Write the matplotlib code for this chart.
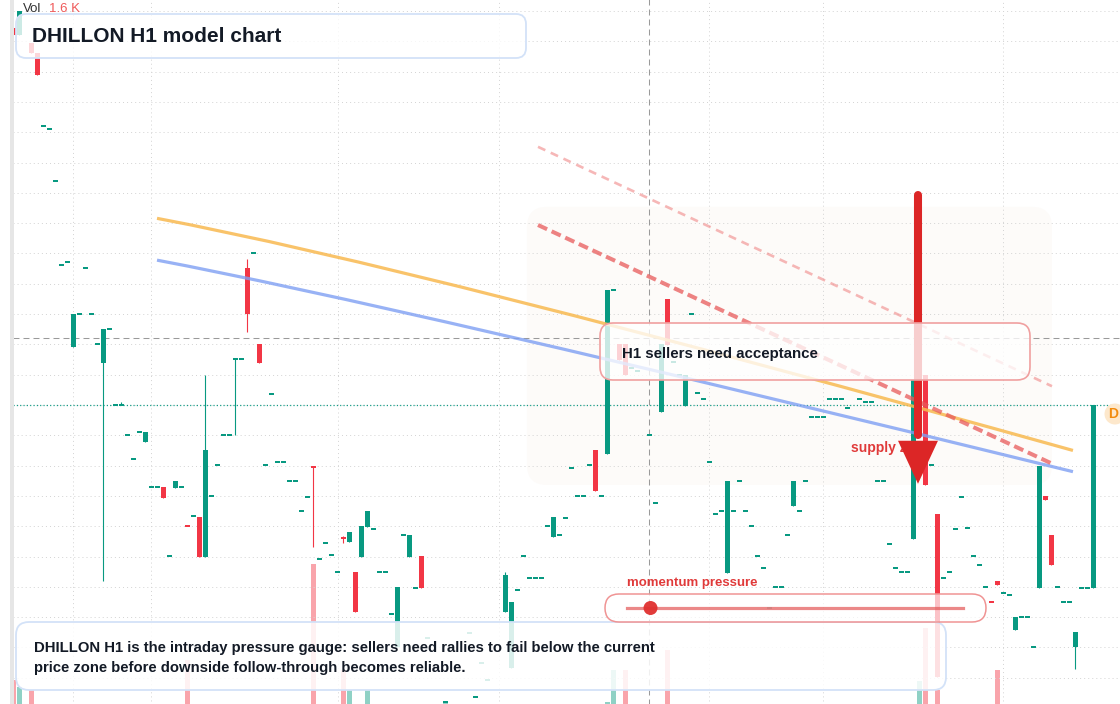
import matplotlib
matplotlib.use('Agg')
import matplotlib.pyplot as plt
from matplotlib.patches import FancyBboxPatch, Polygon, Circle, Rectangle, PathPatch
from matplotlib.path import Path
from matplotlib.transforms import IdentityTransform
from matplotlib.lines import Line2D

plt.rcParams['font.family'] = ['Liberation Sans', 'DejaVu Sans']
plt.rcParams['lines.scale_dashes'] = False

W, H = 1120, 704
GREEN = '#089981'
RED = '#f23645'

# --- candles with a body (slot, open, high, low, close) ---
bar_slot = [2, 3, 5, 6, 12, 17, 20, 24, 27, 29, 31, 33, 34, 39, 41, 43, 52, 57, 58, 59,
            60, 61, 66, 68, 70, 84, 85, 92, 99, 101, 103, 104, 110, 111, 114, 121, 132,
            152, 153, 154, 156, 165, 166, 169, 173, 174, 175, 179, 182]
bar_open = [106.22, 106.11, 105.97, 105.81, 100.96, 100.69, 100.00, 99.39, 98.65, 98.63,
            98.01, 98.15, 97.49, 100.76, 102.26, 101.01, 98.99, 97.81, 97.74, 97.24,
            97.49, 97.99, 96.01, 97.49, 97.51, 96.58, 95.66, 97.82, 99.26, 99.19,
            101.01, 101.01, 99.88, 101.75, 99.98, 97.23, 98.33,
            97.79, 99.10, 100.50, 98.20, 96.76, 97.10, 96.29, 96.98, 98.50, 97.86, 96.01, 96.98]
bar_high = [106.22, 106.50, 105.97, 105.81, 101.50, 101.25, 100.05, 99.55, 98.65, 98.75,
            98.01, 98.15, 100.50, 100.76, 102.41, 101.01, 98.99, 97.84, 97.90, 97.24,
            98.00, 98.25, 97.00, 97.86, 97.51, 97.24, 96.75, 98.15, 99.26, 101.90,
            101.01, 101.01, 101.01, 101.75, 100.50, 98.75, 98.75,
            100.41, 99.30, 100.50, 98.20, 96.76, 97.10, 96.50, 98.99, 98.50, 97.86, 96.25, 100.00]
bar_low = [106.11, 106.11, 105.81, 105.45, 100.96, 97.10, 100.00, 99.39, 98.47, 98.63,
           98.00, 97.49, 97.49, 99.50, 101.20, 100.69, 97.66, 97.72, 97.74, 96.58,
           97.49, 97.99, 96.01, 97.49, 96.98, 96.58, 95.66, 97.82, 98.58, 99.19,
           100.74, 100.50, 99.88, 100.99, 99.98, 97.23, 98.33,
           97.79, 99.10, 98.68, 95.51, 96.75, 97.03, 96.29, 96.98, 98.43, 97.36, 95.64, 96.98]
bar_close = [106.11, 106.50, 105.81, 105.45, 101.50, 101.25, 100.00, 99.55, 98.47, 98.75,
             98.00, 97.49, 99.26, 100.76, 101.50, 100.69, 98.96, 97.80, 97.90, 96.58,
             98.00, 98.25, 97.00, 97.86, 96.98, 97.20, 96.75, 98.15, 98.58, 101.90,
             100.74, 100.50, 101.01, 100.99, 100.50, 98.75, 98.75,
             100.41, 99.30, 98.68, 95.51, 96.75, 97.03, 96.50, 98.99, 98.43, 97.36, 96.25, 100.00]

# --- flat candles (open == high == low == close) ---
tick_slot = [7, 8, 9, 10, 11, 13, 14, 15, 16, 18, 19, 21, 22, 23, 25, 26, 28, 30, 32, 35,
             36, 37, 38, 40, 42, 44, 45, 46, 47, 48, 49, 50, 51, 53, 54, 55, 56, 62, 63, 64,
             65, 67, 69, 71, 74, 78, 79, 80, 81, 86, 87, 88, 89, 90, 91, 93, 94, 95, 96, 97,
             98, 100, 102, 105, 106, 108, 109, 112, 113, 115, 116, 117, 118, 119, 120, 122,
             123, 124, 125, 126, 127, 128, 129, 130, 131, 133, 134, 135, 136, 137, 138, 139,
             140, 141, 143, 144, 145, 146, 147, 148, 149, 150, 151, 155, 157, 158, 159, 160,
             161, 162, 163, 164, 167, 168, 170, 171, 172, 176, 177, 178, 180, 181]
tick_price = [104.60, 104.55, 103.70, 102.31, 102.36, 101.50, 102.26, 101.50, 101.01, 101.25,
              100.00, 99.50, 99.11, 99.55, 98.65, 98.65, 97.51, 98.65, 98.17, 98.50,
              99.01, 99.50, 99.50, 100.76, 102.51, 99.01, 100.18, 99.06, 99.06, 98.75,
              98.75, 98.25, 98.48, 97.46, 97.72, 97.53, 97.24, 97.95, 97.24, 97.24,
              96.55, 97.86, 96.98, 96.16, 95.10, 96.24, 95.18, 95.74, 95.46, 96.95,
              97.51, 97.15, 97.15, 97.15, 98.00, 97.86, 98.14, 98.96, 98.50, 98.50,
              99.01, 98.50, 101.90, 100.61, 100.56, 99.50, 98.38, 100.71, 100.50, 101.50,
              100.20, 100.10, 99.06, 98.20, 98.25, 98.25, 98.75, 98.25, 98.00, 97.51,
              97.31, 96.65, 97.00, 97.00, 97.86, 98.25, 98.75, 99.80, 99.80, 99.80,
              100.10, 100.10, 100.10, 99.95, 100.10, 100.05, 100.05, 98.75, 98.75, 97.71,
              97.31, 97.24, 97.24, 99.01, 97.15, 97.24, 97.95, 98.48, 97.97, 97.51,
              97.36, 97.00, 96.90, 96.87, 96.50, 96.50, 96.01, 97.00, 96.75, 96.75,
              96.98, 96.98]

# --- volume ---
vol_slot = [2, 3, 5, 31, 52, 57, 58, 61, 74, 101, 102, 104, 111, 153, 154, 156, 166]
vol_value = [270, 190, 160, 500, 1600, 390, 160, 160, 35, 25, 390, 390, 620, 260, 870, 160, 390]

# --- overlays (curves: start, control, end) ---
orange_slot = [25.92, 69.42, 178.58]
orange_price = [103.08, 102.27, 99.25]
blue_slot = [25.92, 64.58, 178.58]
blue_price = [102.39, 101.67, 98.90]
supply_upper_slot = [89.42, 175.58]
supply_upper_price = [102.97, 99.01]
supply_outer_slot = [89.42, 175.08]
supply_outer_price = [104.26, 100.31]
zone_slot = [87.58, 175.08]
zone_price = [98.68, 103.27]
arrow_slot = 152.75
arrow_top, arrow_tip = 103.47, 98.70
grid_slots = [11.92, 24.92, 56.08, 82.92, 117.92, 136.92, 166.92]
cross_slot, cross_price = 107.92, 101.11
last_price = 100.00
momentum = 0.07

title = 'DHILLON H1 model chart'
note_lines = ['DHILLON H1 is the intraday pressure gauge: sellers need rallies to fail below the current',
              'price zone before downside follow-through becomes reliable.']

fig = plt.figure(figsize=(W / 100, H / 100), dpi=100)
ax_vol = fig.add_axes([0, 0, 1, 1])
ax = ax_vol.twinx()
for a in (ax_vol, ax):
    a.set_axis_off()
ax.set_xlim(-0.25, 186.42)
ax.set_ylim(95.0665, 106.6825)
ax_vol.set_ylim(0, 8050)

# direction per slot (for volume colouring)
up = {s: True for s in tick_slot}
for s, o, c in zip(bar_slot, bar_open, bar_close):
    up[s] = c >= o

bw = 5 / 6
min_h = 0.028

# grid
for p in [95.5 + 0.5 * i for i in range(23)]:
    ax.plot([2.0, 186.42], [p, p], color='#d5d5d5', lw=0.72, dashes=(0.72, 2.2), zorder=1)
for s in grid_slots:
    ax.plot([s, s], [95.0, 107.0], color='#d5d5d5', lw=0.72, dashes=(0.72, 2.2), zorder=1)

# zone shading
x0, y0 = ax.transData.transform((zone_slot[0], zone_price[0]))
x1, y1 = ax.transData.transform((zone_slot[1], zone_price[1]))
ax.add_patch(FancyBboxPatch((x0, y0), x1 - x0, y1 - y0, boxstyle='round,pad=0,rounding_size=20',
                            transform=IdentityTransform(), fc='#fdfbf9', ec='none', zorder=0.5))

# crosshair + last price line
ax.plot([cross_slot, cross_slot], [95.0, 107.0], color='#9a9a9a', lw=0.75, dashes=(4.3, 2.9), zorder=1.5)
ax.plot([2.0, 186.42], [cross_price, cross_price], color='#9a9a9a', lw=0.75, dashes=(4.3, 2.9), zorder=1.5)
ax.plot([2.0, 186.42], [last_price, last_price], color=GREEN, lw=0.9, dashes=(0.8, 1.6), zorder=2)

# volume
vcol = [(0.03, 0.6, 0.5, 0.45) if up[s] else (0.95, 0.21, 0.27, 0.45) for s in vol_slot]
ax_vol.bar(vol_slot, vol_value, width=bw, color=vcol, linewidth=0, zorder=1)

# candles
cols = [GREEN if c >= o else RED for o, c in zip(bar_open, bar_close)]
ax.vlines(bar_slot, bar_low, bar_high, colors=cols, lw=0.8, zorder=3)
bottoms, heights = [], []
for o, c in zip(bar_open, bar_close):
    lo, hi = min(o, c), max(o, c)
    if hi - lo < min_h:
        mid = (hi + lo) / 2
        lo, hi = mid - min_h / 2, mid + min_h / 2
    bottoms.append(lo)
    heights.append(hi - lo)
ax.bar(bar_slot, heights, width=bw, bottom=bottoms, color=cols, linewidth=0, zorder=3.2)
ax.bar(tick_slot, [min_h] * len(tick_slot), width=bw,
       bottom=[p - min_h / 2 for p in tick_price], color=GREEN, linewidth=0, zorder=3.2)

# trend overlays (quadratic curves)
for xs, ys, col, al in [(orange_slot, orange_price, '#f8b950', 0.85),
                        (blue_slot, blue_price, '#7e9ff3', 0.8)]:
    path = Path(list(zip(xs, ys)), [Path.MOVETO, Path.CURVE3, Path.CURVE3])
    ax.add_patch(PathPatch(path, fc='none', ec=col, lw=2.3, alpha=al, zorder=4, capstyle='butt'))
ax.plot(supply_upper_slot, supply_upper_price, color='#e85a5a', lw=2.9, alpha=0.75,
        dashes=(7.2, 3.6), zorder=4.2)
ax.plot(supply_outer_slot, supply_outer_price, color='#f08888', lw=1.9, alpha=0.6,
        dashes=(5.8, 4.3), zorder=4.2)

ax.text(141.58, 99.29, 'supply zone', color='#e03a3a', fontsize=10, fontweight='bold',
        va='center', ha='left', zorder=5)

# arrow
ax.plot([arrow_slot, arrow_slot], [arrow_top, arrow_tip + 0.8], color='#dc2626', lw=5.8,
        solid_capstyle='round', zorder=6)
ax.add_patch(Polygon([(arrow_slot - 3.33, arrow_tip + 0.71), (arrow_slot + 3.33, arrow_tip + 0.71),
                      (arrow_slot, arrow_tip)], closed=True, fc='#dc2626', ec='none', zorder=6.1))


def rbox(x0, y0, x1, y1, r, fc, ec, lw, z):
    fig.add_artist(FancyBboxPatch((x0, H - y1), x1 - x0, y1 - y0,
                                  boxstyle=f'round,pad=0,rounding_size={r}',
                                  transform=IdentityTransform(), fc=fc, ec=ec, lw=lw, zorder=z))


def ftext(x, y, s, **kw):
    fig.text(x / W, 1 - y / H, s, va='center', ha='left', zorder=8, **kw)


# left pane border
fig.add_artist(Rectangle((10, 0), 4, H, transform=IdentityTransform(), fc='#e6e6e6', ec='none', zorder=4))

# boxes
rbox(16, 14, 526, 58, 10, (1, 1, 1, 0.8), '#d3e2f8', 1.3, 5)
rbox(600, 323, 1030, 380, 13, (1, 1, 1, 0.78), '#f0a0a0', 1.2, 5)
rbox(16, 622, 946, 690, 13, (1, 1, 1, 0.85), '#d3e2f8', 1.3, 5)
rbox(605, 594, 986, 622, 14, (1, 1, 1, 0.7), '#f09494', 1.1, 5.5)

# momentum gauge
fig.add_artist(Line2D([627, 963], [H - 608, H - 608], transform=IdentityTransform(),
                      color='#e35656', alpha=0.7, lw=2.3, zorder=6))
fig.add_artist(Circle((627 + momentum * 336, H - 608), 7, transform=IdentityTransform(),
                      fc='#e0302f', ec='none', alpha=0.95, zorder=6.5))

# last price badge
fig.add_artist(Circle((1115, H - 414), 10.5, transform=IdentityTransform(), fc='#fde8cc', ec='none', zorder=6))
ftext(1108, 414, 'D', color='#f28c0f', fontsize=10, fontweight='bold')

ftext(23, 9, 'Vol', color='#333333', fontsize=9.5)
ftext(49, 9, f'{max(vol_value) / 1000:.1f} K', color='#f05a5a', fontsize=9.5)
ftext(32, 36, title, color='#131a26', fontsize=15, fontweight='bold')
ftext(622, 354, 'H1 sellers need acceptance', color='#131a26', fontsize=10.8, fontweight='bold')
ftext(627, 583, 'momentum pressure', color='#e03a3a', fontsize=9.5, fontweight='bold')
ftext(34, 648, note_lines[0], color='#131a26', fontsize=10.7, fontweight='bold')
ftext(34, 668, note_lines[1], color='#131a26', fontsize=10.7, fontweight='bold')

fig.savefig('out.png', dpi=100)
